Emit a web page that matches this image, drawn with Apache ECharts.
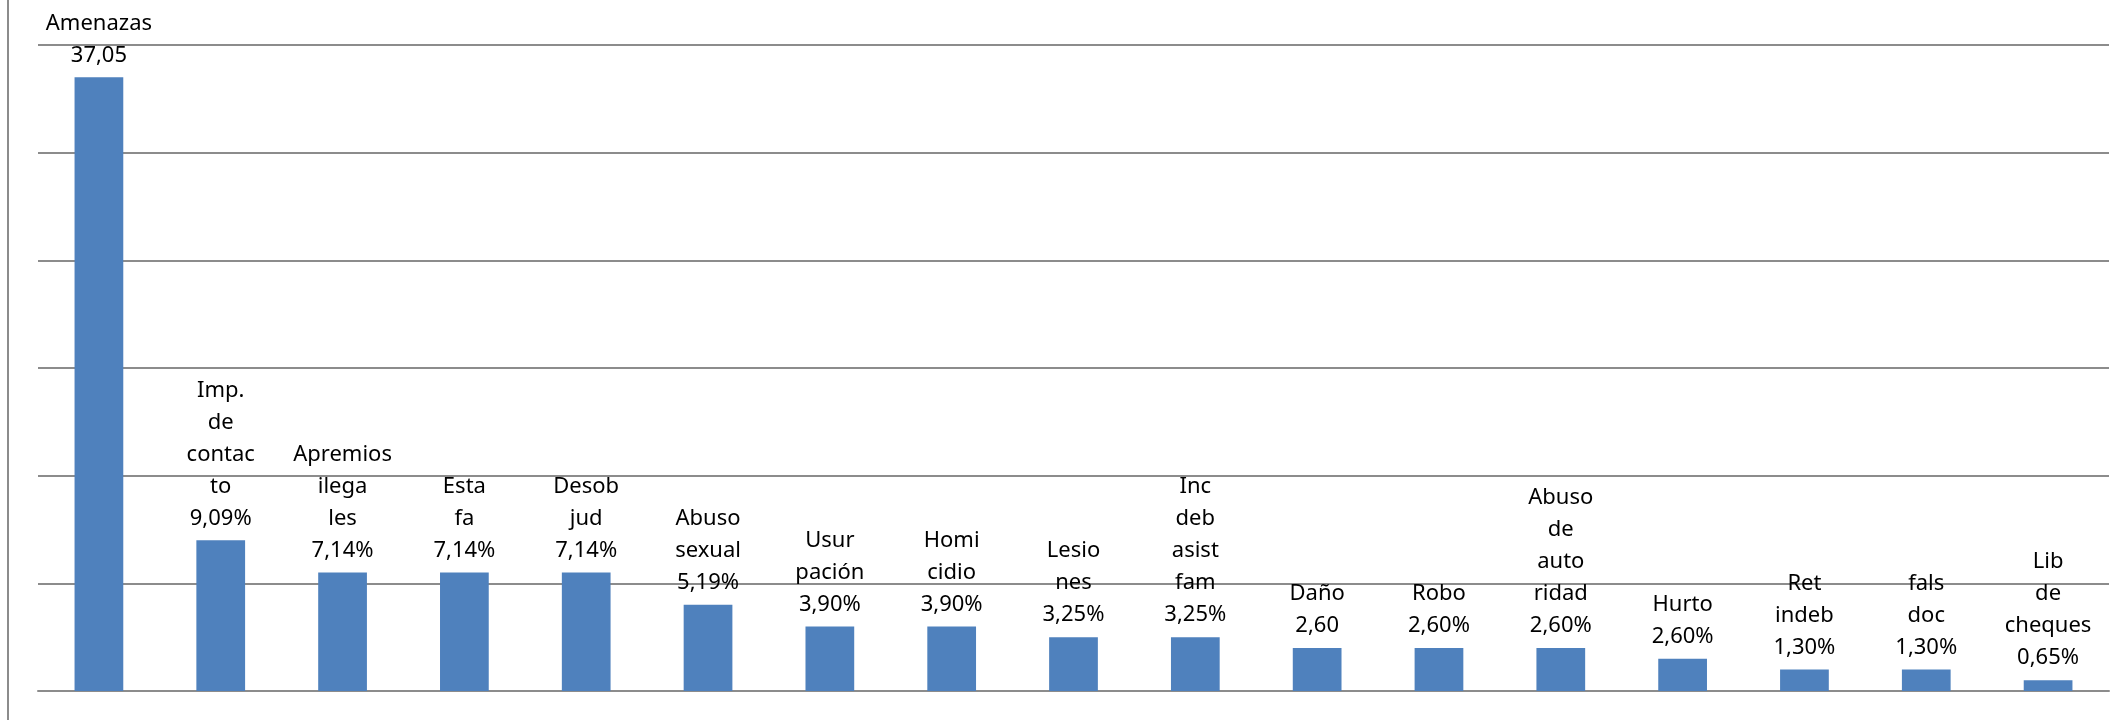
<!DOCTYPE html>
<html>
<head>
<meta charset="utf-8">
<script src="https://cdn.jsdelivr.net/npm/echarts@6/dist/echarts.min.js"></script>
<style>
html,body{margin:0;padding:0;background:#fff;}
#chart{width:2124px;height:720px;}
</style>
</head>
<body>
<div id="chart"></div>
<script>
// Categories (crime types)
var categories = ["Amenazas","Imp. de contacto","Apremios ilegales","Estafa","Desob jud","Abuso sexual","Usurpación","Homicidio","Lesiones","Inc deb asist fam","Daño","Robo","Abuso de autoridad","Hurto","Ret indeb","fals doc","Lib de cheques"];
// Case counts (bar heights, axis in counts)
var counts = [57,14,11,11,11,8,6,6,5,5,4,4,4,3,2,2,1];
// Data label texts as shown in the chart
var labelTexts = [
  "Amenazas\n37,05",
  "Imp.\nde\ncontac\nto\n9,09%",
  "Apremios\nilega\nles\n7,14%",
  "Esta\nfa\n7,14%",
  "Desob\njud\n7,14%",
  "Abuso\nsexual\n5,19%",
  "Usur\npación\n3,90%",
  "Homi\ncidio\n3,90%",
  "Lesio\nnes\n3,25%",
  "Inc\ndeb\nasist\nfam\n3,25%",
  "Daño\n2,60",
  "Robo\n2,60%",
  "Abuso\nde\nauto\nridad\n2,60%",
  "Hurto\n2,60%",
  "Ret\nindeb\n1,30%",
  "fals\ndoc\n1,30%",
  "Lib\nde\ncheques\n0,65%"
];

var chart = echarts.init(document.getElementById('chart'));
chart.setOption({
  animation: false,
  backgroundColor: '#ffffff',
  graphic: [{
    type: 'line',
    shape: {x1: 8, y1: 0, x2: 8, y2: 720},
    style: {stroke: '#8c8c8c', lineWidth: 2}
  }],
  grid: {left: 38, right: 15, top: 45, bottom: 29, containLabel: false},
  xAxis: {
    type: 'category',
    data: categories,
    axisLine: {show: true, lineStyle: {color: '#8c8c8c', width: 2}},
    axisTick: {show: false},
    axisLabel: {show: false}
  },
  yAxis: {
    type: 'value',
    min: 0, max: 60, interval: 10,
    axisLine: {show: false},
    axisTick: {show: false},
    axisLabel: {show: false},
    splitLine: {show: true, lineStyle: {color: '#8c8c8c', width: 2}}
  },
  series: [{
    type: 'bar',
    data: counts,
    barWidth: '40%',
    itemStyle: {color: '#4f81bd'},
    label: {
      show: true,
      position: 'top',
      distance: 6,
      color: '#000000',
      fontFamily: 'Noto Sans',
      fontSize: 22,
      lineHeight: 32,
      align: 'center',
      formatter: function (p) { return labelTexts[p.dataIndex]; }
    }
  }]
});
</script>
</body>
</html>
